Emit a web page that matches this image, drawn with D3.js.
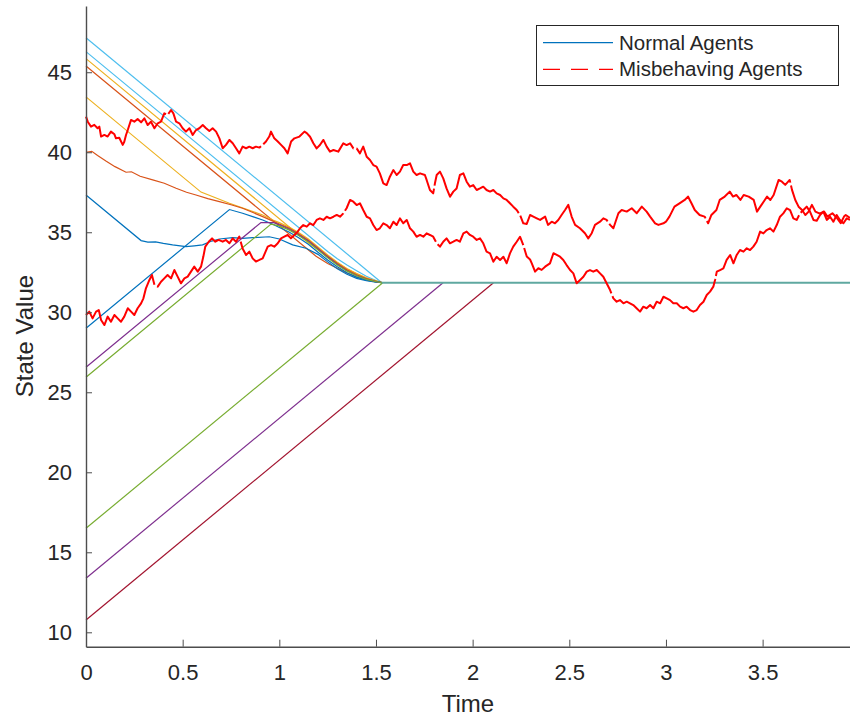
<!DOCTYPE html>
<html lang="en">
<head>
<meta charset="UTF-8">
<script src="https://cdn.jsdelivr.net/npm/d3@7"></script>
<title>State Value</title>
<style>
  body { margin: 0; background: #fff; }
  text { font-family: "Liberation Sans", Arial, Helvetica, sans-serif; fill: #262626; }
</style>
</head>
<body>
<script>
// axis ticks and limits
const timeTicks = [0, 0.5, 1, 1.5, 2, 2.5, 3, 3.5]
const valueTicks = [10, 15, 20, 25, 30, 35, 40, 45]
const timeLimits = [0, 3.952]
const valueLimits = [9.1, 49.14]

// normal agents, [time, value]
const agent1 = [[0,47.16],[1.53,31.85]]
const agent2 = [[0,46.29],[1.25,33.8],[1.3,33.35],[1.35,32.95],[1.4,32.6],[1.45,32.25],[1.5,31.98],[1.53,31.85]]
const agent3 = [[0,45.85],[1.15,34.35],[1.2,33.9],[1.25,33.5],[1.3,33.1],[1.35,32.72],[1.4,32.42],[1.45,32.16],[1.5,31.95],[1.53,31.85]]
const agent4 = [[0,45.39],[1.19,33.5],[1.25,33.05],[1.3,32.75],[1.35,32.45],[1.4,32.2],[1.45,32.02],[1.5,31.9],[1.53,31.85]]
const agent5 = [[0,43.46],[0.595,37.51],[0.742,36.81],[0.914,36.08],[0.97,35.75],[1.0,35.6],[1.05,35.33],[1.1,34.98],[1.15,34.58],[1.2,34.08],[1.25,33.58],[1.3,33.12],[1.35,32.72],[1.4,32.4],[1.45,32.14],[1.5,31.96],[1.53,31.85]]
const agent6 = [[0,40.0],[0.03,40.06],[0.06,39.8],[0.103,39.45],[0.15,39.1],[0.207,38.75],[0.235,38.78],[0.28,38.5],[0.345,38.27],[0.405,38.06],[0.466,37.75],[0.52,37.5],[0.569,37.33],[0.63,37.1],[0.69,36.91],[0.75,36.72],[0.81,36.5],[0.87,36.2],[0.914,35.98],[0.97,35.68],[1.0,35.52],[1.05,35.26],[1.1,34.9],[1.15,34.5],[1.2,34.0],[1.25,33.5],[1.3,33.05],[1.35,32.65],[1.4,32.34],[1.45,32.1],[1.5,31.94],[1.53,31.85]]
const agent7 = [[0,37.33],[0.285,34.48],[0.32,34.38],[0.36,34.4],[0.4,34.3],[0.448,34.21],[0.517,34.1],[0.56,34.15],[0.603,34.21],[0.65,34.45],[0.69,34.58],[0.759,34.66],[0.81,34.62],[0.862,34.66],[0.948,34.72],[1.0,34.58],[1.069,34.21],[1.138,34.0],[1.2,33.62],[1.25,33.15],[1.3,32.72],[1.35,32.38],[1.4,32.12],[1.45,31.97],[1.5,31.88],[1.53,31.85]]
const agent8 = [[0,29.0],[0.742,36.42],[0.81,36.19],[0.87,35.95],[0.914,35.77],[0.966,35.5],[1.0,35.3],[1.05,35.02],[1.1,34.66],[1.15,34.25],[1.2,33.75],[1.25,33.27],[1.3,32.84],[1.35,32.47],[1.4,32.2],[1.45,32.0],[1.5,31.9],[1.53,31.85]]
const agent9 = [[0,26.56],[0.905,35.61],[0.97,35.6],[1.0,35.47],[1.05,35.2],[1.1,34.85],[1.15,34.45],[1.2,33.95],[1.25,33.45],[1.3,33.0],[1.35,32.6],[1.4,32.3],[1.45,32.07],[1.5,31.92],[1.53,31.85]]
const agent10 = [[0,25.94],[0.957,35.51],[1.0,35.4],[1.05,35.15],[1.1,34.8],[1.15,34.4],[1.2,33.9],[1.25,33.4],[1.3,32.96],[1.35,32.57],[1.4,32.28],[1.45,32.06],[1.5,31.91],[1.53,31.85]]
const agent11 = [[0,16.5],[1.535,31.85]]
const agent12 = [[0,13.38],[1.847,31.85]]
const agent13 = [[0,10.77],[2.108,31.85]]
const consensus = [[1.53,31.85],[3.952,31.85]]

// misbehaving agents
const misbehaving1 = [[0,42.23],[0.009,41.91],[0.026,41.6],[0.043,41.71],[0.06,41.5],[0.069,41.6],[0.078,40.98],[0.095,41.08],[0.112,40.98],[0.129,41.29],[0.147,41.12],[0.155,40.87],[0.172,40.91],[0.19,40.46],[0.198,40.66],[0.207,41.08],[0.216,41.39],[0.233,42.02],[0.25,41.91],[0.267,42.08],[0.285,41.87],[0.302,42.12],[0.319,41.7],[0.336,41.91],[0.354,41.5],[0.371,41.81],[0.388,41.91],[0.405,42.43],[0.422,42.33],[0.44,42.64],[0.452,42.43],[0.466,41.91],[0.483,41.81],[0.5,41.5],[0.517,41.29],[0.535,41.5],[0.552,41.08],[0.569,41.39],[0.586,41.5],[0.604,41.7],[0.621,41.5],[0.638,41.33],[0.655,41.5],[0.673,41.29],[0.69,40.87],[0.707,40.25],[0.724,40.46],[0.742,40.77],[0.759,40.56],[0.776,40.25],[0.793,39.93],[0.81,40.35],[0.828,40.25],[0.845,40.35],[0.862,40.25],[0.879,40.35],[0.897,40.29],[0.914,40.46],[0.931,40.67],[0.948,40.98],[0.957,41.29],[0.974,40.87],[0.992,40.67],[1.009,40.46],[1.026,40.25],[1.043,39.93],[1.061,40.67],[1.078,40.87],[1.104,40.98],[1.13,41.29],[1.142,41.2],[1.159,40.97],[1.176,40.56],[1.193,40.24],[1.21,40.45],[1.228,40.77],[1.245,40.35],[1.262,40.04],[1.28,40.14],[1.305,40.04],[1.331,40.56],[1.348,40.45],[1.366,40.56],[1.383,40.24],[1.4,40.24],[1.417,39.93],[1.434,40.35],[1.452,39.72],[1.469,39.52],[1.486,39.2],[1.503,39.1],[1.52,38.68],[1.538,38.06],[1.555,37.95],[1.572,38.47],[1.59,38.89],[1.607,38.58],[1.624,38.79],[1.641,39.2],[1.659,39.2],[1.676,39.31],[1.693,38.79],[1.71,38.58],[1.728,38.68],[1.753,38.58],[1.762,38.27],[1.779,37.64],[1.796,37.43],[1.805,38.06],[1.814,38.58],[1.831,38.79],[1.848,38.37],[1.865,37.74],[1.883,37.22],[1.9,37.54],[1.917,37.74],[1.934,38.58],[1.952,38.68],[1.969,38.16],[1.986,37.85],[2.003,37.95],[2.021,37.64],[2.038,37.74],[2.055,37.85],[2.072,37.64],[2.09,37.54],[2.107,37.64],[2.124,37.43],[2.142,37.33],[2.159,37.12],[2.176,37.02],[2.193,36.81],[2.21,36.6],[2.228,36.39],[2.245,36.08],[2.262,35.56],[2.28,35.52],[2.297,36.08],[2.314,35.98],[2.332,35.87],[2.349,35.77],[2.375,35.98],[2.39,35.46],[2.409,35.66],[2.426,35.56],[2.443,35.77],[2.46,36.08],[2.478,36.39],[2.495,36.71],[2.512,35.98],[2.53,35.46],[2.555,35.25],[2.581,34.94],[2.598,34.62],[2.616,34.94],[2.633,35.46],[2.659,35.66],[2.676,35.87],[2.693,35.77],[2.711,35.46],[2.728,35.25],[2.754,36.19],[2.771,36.39],[2.797,36.29],[2.823,36.5],[2.849,36.19],[2.875,36.6],[2.9,36.29],[2.918,35.98],[2.944,35.56],[2.961,35.46],[2.987,35.56],[3.0,35.66],[3.018,35.98],[3.044,36.6],[3.07,36.81],[3.097,37.02],[3.114,37.23],[3.132,36.81],[3.149,36.39],[3.174,36.08],[3.2,35.98],[3.218,35.56],[3.235,36.08],[3.261,36.39],[3.278,37.02],[3.304,37.23],[3.33,37.54],[3.347,37.23],[3.364,37.33],[3.385,37.02],[3.402,37.33],[3.428,37.23],[3.454,37.02],[3.471,36.29],[3.488,36.6],[3.506,36.92],[3.523,37.23],[3.54,37.02],[3.557,37.33],[3.583,38.27],[3.6,38.16],[3.617,37.96],[3.64,38.27],[3.652,37.65],[3.669,37.02],[3.686,36.6],[3.704,36.39],[3.721,36.08],[3.738,36.29],[3.755,36.71],[3.773,36.29],[3.79,36.19],[3.8,36.19],[3.818,36.29],[3.835,35.98],[3.861,36.19],[3.886,35.87],[3.904,35.56],[3.921,35.98],[3.93,36.08],[3.952,35.9]]
const misbehaving2 = [[0,29.83],[0.017,30.04],[0.034,29.62],[0.052,30.04],[0.066,30.14],[0.078,29.52],[0.095,29.2],[0.112,29.73],[0.129,29.41],[0.147,29.83],[0.164,29.62],[0.181,29.41],[0.198,29.73],[0.216,30.25],[0.233,30.04],[0.25,29.83],[0.267,30.25],[0.285,30.56],[0.297,30.87],[0.31,31.5],[0.328,32.02],[0.341,32.33],[0.354,31.71],[0.371,31.6],[0.388,31.91],[0.405,32.12],[0.422,32.33],[0.44,32.12],[0.457,32.64],[0.474,32.23],[0.491,31.81],[0.509,32.12],[0.526,32.23],[0.543,32.54],[0.56,32.85],[0.578,32.54],[0.595,32.85],[0.607,33.48],[0.617,34.1],[0.635,34.41],[0.652,34.62],[0.669,34.41],[0.686,34.52],[0.707,34.41],[0.724,34.52],[0.742,34.31],[0.759,34.62],[0.776,34.41],[0.793,34.73],[0.81,33.98],[0.828,33.58],[0.845,33.79],[0.862,33.37],[0.879,33.17],[0.897,33.27],[0.914,33.37],[0.94,34.1],[0.957,34.2],[0.974,34.1],[0.992,34.31],[1.009,34.62],[1.026,34.73],[1.043,34.83],[1.06,34.62],[1.078,34.83],[1.095,35.04],[1.107,35.25],[1.124,35.45],[1.142,35.35],[1.159,35.56],[1.176,35.45],[1.193,35.77],[1.21,35.87],[1.228,35.77],[1.245,35.97],[1.262,35.87],[1.28,35.97],[1.297,36.08],[1.314,35.97],[1.331,36.18],[1.348,36.5],[1.366,37.02],[1.383,36.91],[1.4,36.7],[1.417,36.81],[1.434,36.39],[1.452,35.97],[1.469,35.87],[1.486,35.45],[1.503,35.14],[1.52,35.25],[1.538,35.56],[1.555,35.45],[1.572,35.25],[1.59,35.66],[1.607,35.45],[1.624,35.87],[1.641,35.56],[1.659,35.77],[1.676,35.25],[1.693,35.04],[1.71,34.72],[1.728,34.83],[1.745,34.72],[1.762,34.93],[1.779,34.83],[1.796,34.72],[1.814,34.31],[1.831,34.1],[1.848,34.41],[1.865,34.62],[1.883,34.31],[1.9,34.41],[1.917,34.52],[1.934,34.41],[1.952,34.93],[1.969,35.04],[1.986,34.83],[2.003,34.72],[2.021,34.52],[2.038,34.62],[2.055,34.31],[2.072,33.79],[2.09,33.68],[2.107,33.16],[2.124,33.47],[2.142,33.27],[2.159,33.47],[2.176,33.06],[2.193,33.68],[2.21,34.1],[2.228,34.41],[2.245,34.72],[2.262,34.2],[2.28,33.48],[2.297,33.3],[2.306,33.06],[2.323,32.54],[2.34,32.75],[2.357,32.65],[2.375,32.85],[2.4,33.06],[2.418,33.69],[2.435,33.58],[2.452,33.47],[2.469,33.27],[2.486,32.95],[2.504,32.64],[2.521,32.43],[2.538,31.81],[2.556,32.02],[2.573,32.22],[2.59,32.54],[2.607,32.64],[2.624,32.54],[2.642,32.64],[2.659,32.43],[2.676,32.22],[2.693,31.81],[2.711,31.39],[2.728,30.87],[2.745,30.66],[2.762,30.76],[2.78,30.56],[2.797,30.66],[2.814,30.56],[2.831,30.45],[2.848,30.25],[2.866,30.04],[2.883,30.35],[2.9,30.25],[2.918,30.45],[2.935,30.25],[2.952,30.66],[2.97,30.56],[2.987,30.97],[3.004,30.87],[3.021,30.76],[3.038,30.56],[3.056,30.56],[3.073,30.35],[3.09,30.25],[3.107,30.35],[3.125,30.14],[3.142,30.04],[3.159,30.14],[3.176,30.45],[3.194,30.66],[3.211,31.08],[3.228,31.29],[3.245,31.6],[3.254,32.02],[3.263,32.54],[3.28,32.64],[3.297,32.74],[3.314,33.27],[3.332,33.58],[3.349,33.06],[3.366,33.58],[3.383,33.89],[3.401,33.79],[3.418,34.0],[3.435,33.89],[3.452,34.1],[3.469,34.41],[3.487,35.04],[3.504,34.93],[3.521,35.14],[3.538,35.25],[3.556,35.04],[3.573,35.45],[3.59,35.97],[3.607,36.18],[3.625,36.5],[3.642,36.39],[3.659,35.87],[3.676,35.77],[3.694,36.18],[3.711,36.39],[3.728,36.6],[3.745,36.29],[3.763,35.77],[3.78,35.72],[3.797,36.08],[3.814,36.29],[3.832,35.77],[3.849,35.97],[3.866,35.66],[3.883,36.08],[3.9,35.77],[3.918,35.56],[3.935,35.87],[3.952,35.77]]

const legendLabels = ["Normal Agents", "Misbehaving Agents"]

// matlab default colour order
const normalAgents = [agent1, agent2, agent3, agent4, agent5, agent6, agent7, agent8, agent9, agent10, agent11, agent12, agent13]
const normalColors = ["#4DBEEE","#4DBEEE","#EDB120","#D95319","#EDB120","#D95319","#0072BD","#0072BD","#7E2F8E","#77AC30","#77AC30","#7E2F8E","#A2142F"]
const misbehaving = [misbehaving1, misbehaving2]

const width = 850
const height = 717
const plotLeft = 86, plotRight = 850, plotTop = 6, plotBottom = 646.7

const svg = d3.select("body").append("svg").attr("width", width).attr("height", height)

const xScale = d3.scaleLinear().domain(timeLimits).range([plotLeft, plotRight])
const yScale = d3.scaleLinear().domain(valueLimits).range([plotBottom, plotTop])

const line = d3.line().x(d => xScale(d[0])).y(d => yScale(d[1]))

// normal agents
svg.selectAll(".agent")
    .data(normalAgents)
    .enter()
    .append("path")
    .attr("class", "agent")
    .attr("d", line)
    .attr("fill", "none")
    .attr("stroke", (d, i) => normalColors[i])
    .attr("stroke-width", 1.2)

svg.append("path")
    .attr("d", line(consensus))
    .attr("fill", "none")
    .attr("stroke", "#5fa8a0")
    .attr("stroke-width", 2)

// misbehaving agents on top
svg.selectAll(".mis")
    .data(misbehaving)
    .enter()
    .append("path")
    .attr("class", "mis")
    .attr("d", line)
    .attr("fill", "none")
    .attr("stroke", "#ff0000")
    .attr("stroke-width", 2)
    .attr("stroke-linejoin", "round")
    .attr("stroke-dasharray", "150,3")

// axes
const xAxis = d3.axisBottom(xScale).tickValues(timeTicks).tickFormat(d3.format("")).tickSize(-7).tickSizeOuter(0).tickPadding(18)
const yAxis = d3.axisLeft(yScale).tickValues(valueTicks).tickSize(-6).tickSizeOuter(0).tickPadding(14)

const gx = svg.append("g").attr("transform", `translate(0,${plotBottom})`).call(xAxis)
const gy = svg.append("g").attr("transform", `translate(${plotLeft},0)`).call(yAxis)

for (const g of [gx, gy]) {
    g.select(".domain").attr("stroke", "#4d4d4d").attr("stroke-width", 1.4)
    g.selectAll(".tick line").attr("stroke", "#4d4d4d").attr("stroke-width", 1)
    g.selectAll(".tick text").attr("font-size", 22).attr("font-family", null).attr("fill", "#262626")
}

// axis labels
svg.append("text")
    .attr("x", (plotLeft + plotRight) / 2)
    .attr("y", 712)
    .attr("text-anchor", "middle")
    .attr("font-size", 24)
    .text("Time")

svg.append("text")
    .attr("transform", "translate(33,336) rotate(-90)")
    .attr("text-anchor", "middle")
    .attr("font-size", 24)
    .text("State Value")

// legend
const legend = svg.append("g")
legend.append("rect")
    .attr("x", 536.5).attr("y", 25.5).attr("width", 302).attr("height", 60)
    .attr("fill", "#fff").attr("stroke", "#262626").attr("stroke-width", 1)

const legendRows = [42.7, 69.3]
legend.selectAll(".lline")
    .data(legendLabels)
    .enter()
    .append("line")
    .attr("x1", 543).attr("x2", 613)
    .attr("y1", (d, i) => legendRows[i]).attr("y2", (d, i) => legendRows[i])
    .attr("stroke", (d, i) => i === 0 ? "#0072BD" : "#ff0000")
    .attr("stroke-width", 1.2)
    .attr("stroke-dasharray", (d, i) => i === 0 ? null : "17,11")

legend.selectAll(".ltext")
    .data(legendLabels)
    .enter()
    .append("text")
    .attr("x", 619)
    .attr("y", (d, i) => legendRows[i])
    .attr("dy", "0.35em")
    .attr("font-size", 20.5)
    .text(d => d)
</script>
</body>
</html>
